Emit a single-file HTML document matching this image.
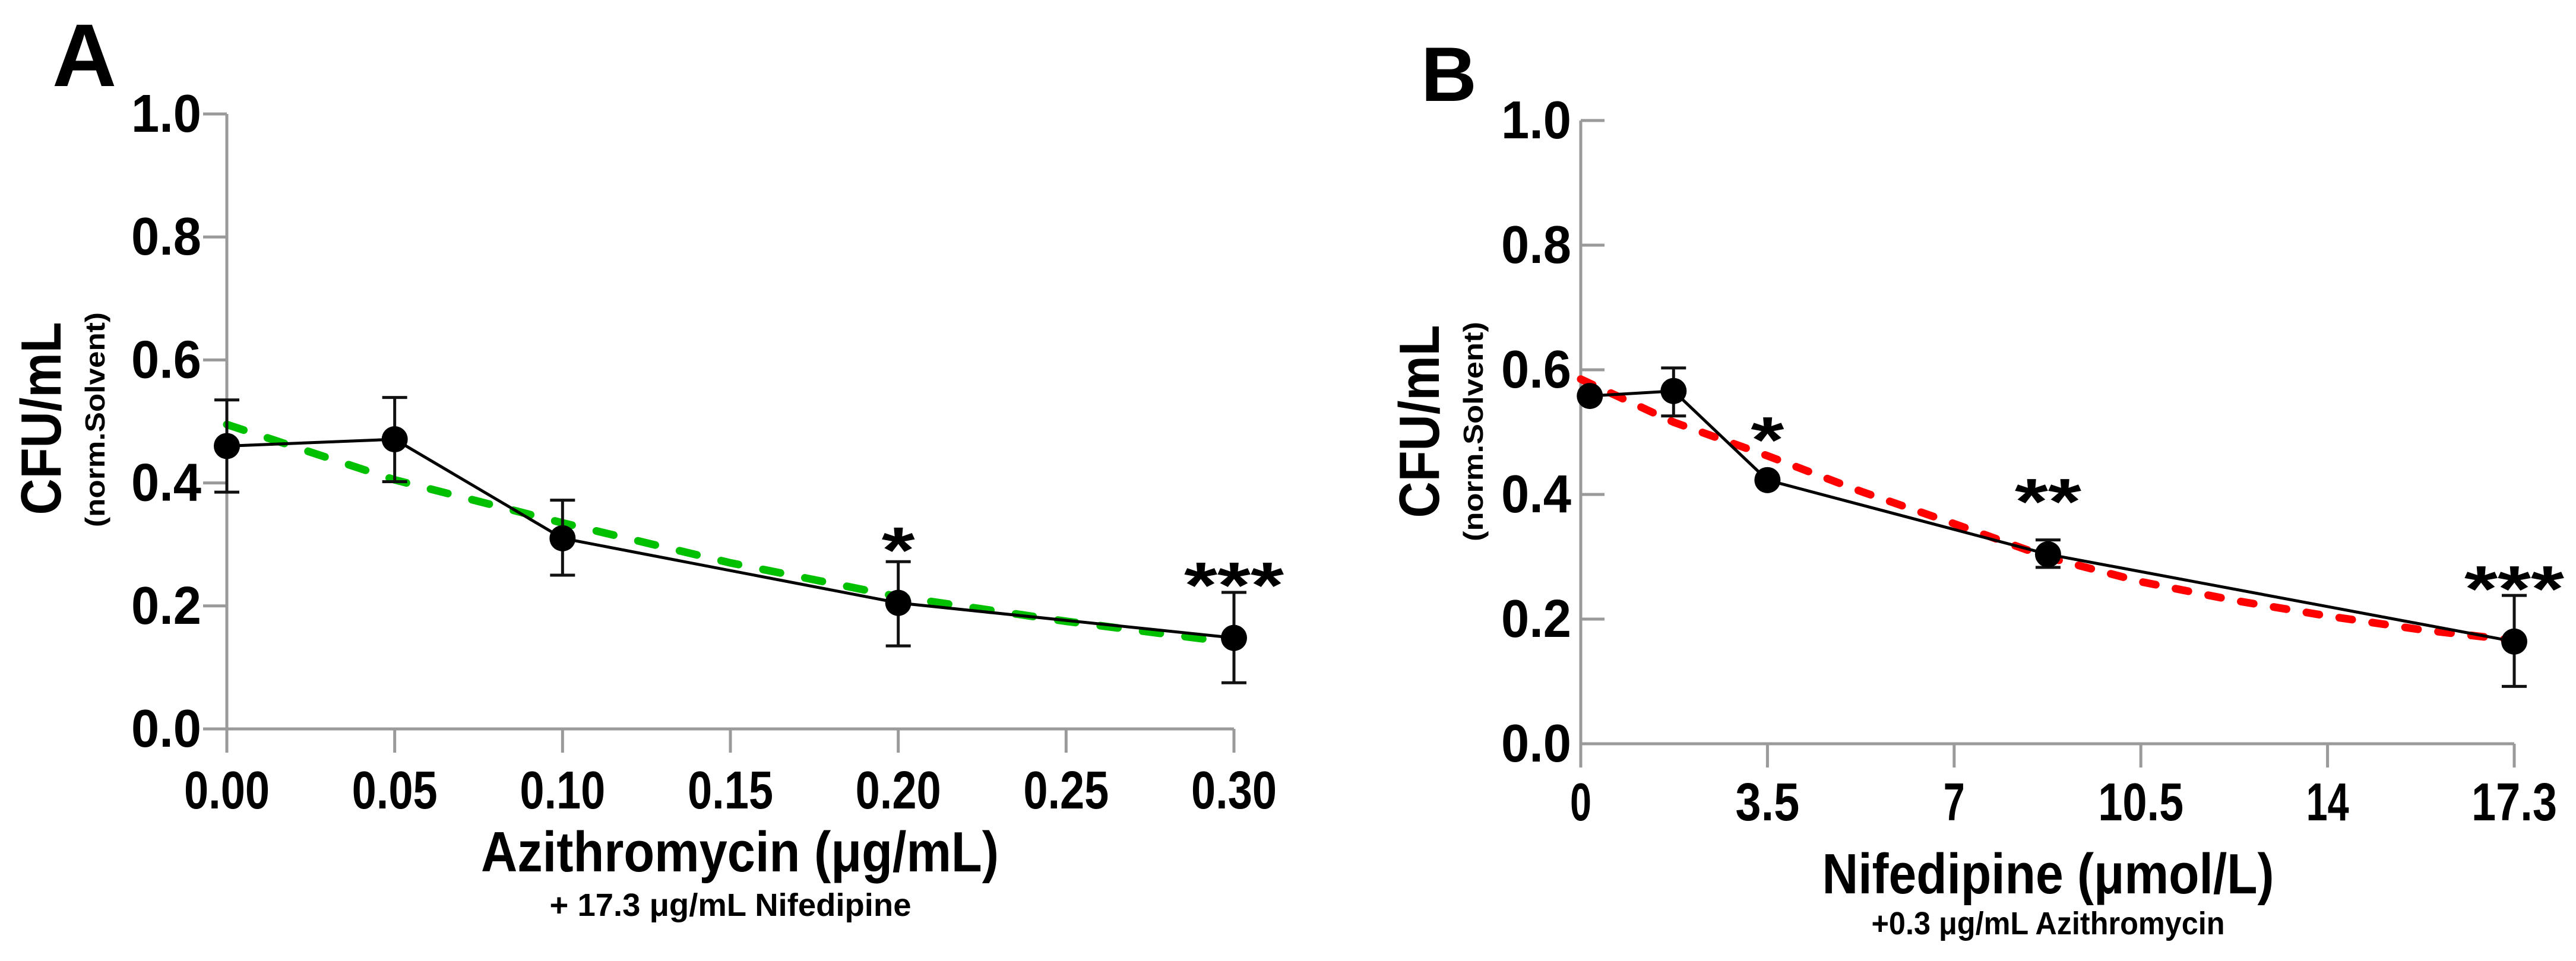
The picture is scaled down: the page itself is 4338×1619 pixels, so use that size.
<!DOCTYPE html>
<html><head><meta charset="utf-8"><style>
html,body{margin:0;padding:0;background:#fff;}
svg{display:block;}
text{font-family:"Liberation Sans",sans-serif;font-weight:bold;fill:#000;}
</style></head><body>
<svg id="chart" xmlns="http://www.w3.org/2000/svg" width="4338" height="1619" viewBox="0 0 4338 1619">
<g id="panelA"></g>
<g id="panelB"></g>
</svg>
<script>
// ---- Panel A data ----
const aXTicks = [0, 0.05, 0.10, 0.15, 0.20, 0.25, 0.30];
const aXTickLabels = ["0.00","0.05","0.10","0.15","0.20","0.25","0.30"];
const aX = [0, 0.05, 0.10, 0.20, 0.30];
const aMean = [0.46, 0.471, 0.31, 0.205, 0.148];
const aLow = [0.385, 0.402, 0.25, 0.135, 0.075];
const aHigh = [0.535, 0.539, 0.372, 0.272, 0.222];
const aFitX = [0, 0.05, 0.10, 0.15, 0.20, 0.25, 0.30];
const aFitY = [0.495, 0.405, 0.335, 0.27, 0.215, 0.175, 0.14];
const aStars = ["", "", "", "*", "***"];
// ---- Panel B data ----
const bXTicks = [0, 3.5, 7, 10.5, 14, 17.5];
const bXTickLabels = ["0","3.5","7","10.5","14","17.3"];
const bX = [0.17, 1.74, 3.5, 8.76, 17.5];
const bMean = [0.558, 0.566, 0.423, 0.304, 0.164];
const bLow = [0.558, 0.526, 0.423, 0.283, 0.092];
const bHigh = [0.558, 0.603, 0.423, 0.327, 0.238];
const bFitX = [0, 1.74, 3.5, 5.25, 7, 8.76, 10.5, 12.25, 14, 15.75, 17.5];
const bFitY = [0.585, 0.516, 0.462, 0.405, 0.353, 0.299, 0.26, 0.23, 0.205, 0.183, 0.166];
const bStars = ["", "", "*", "**", "***"];
const yTicks = [0, 0.2, 0.4, 0.6, 0.8, 1.0];
const yTickLabels = ["0.0","0.2","0.4","0.6","0.8","1.0"];

const NS = "http://www.w3.org/2000/svg";
function mk(parent, tag, attrs, txt){
  const e = document.createElementNS(NS, tag);
  for (const k in attrs) e.setAttribute(k, attrs[k]);
  if (txt !== undefined) e.textContent = txt;
  parent.appendChild(e); return e;
}

function panel(g, cfg){
  const sx = v => cfg.x0 + (v - cfg.xmin) / (cfg.xmax - cfg.xmin) * (cfg.x1 - cfg.x0);
  const sy = v => cfg.y0 - v * (cfg.y0 - cfg.y1);
  let e = mk(g, "line", {x1:cfg.x0, y1:sy(1), x2:cfg.x0, y2:cfg.y0, stroke:"#9a9a9a","stroke-width":5});
  
  
  e = mk(g, "line", {x1:cfg.x0, y1:cfg.y0, x2:cfg.x1, y2:cfg.y0, stroke:"#9a9a9a","stroke-width":5});
  
  
  yTicks.forEach((v,i)=>{
    const y = sy(v);
    const t = mk(g, "line", {x1:cfg.x0, y1:y, x2:cfg.x0 + cfg.ytickDir*40, y2:y, stroke:"#9a9a9a","stroke-width":5});
    
    
    const l = mk(g, "text", {x:cfg.ylabX, y:y+30, "text-anchor":"end","font-size":90, textLength:118, lengthAdjust:"spacingAndGlyphs"}, yTickLabels[i]);
    
    
  });
  cfg.xTicks.forEach((v,i)=>{
    const x = sx(v);
    const t = mk(g, "line", {x1:x, y1:cfg.y0, x2:x, y2:cfg.y0+40, stroke:"#9a9a9a","stroke-width":5});
    
    
    const s = cfg.xTickLabels[i];
    const l = mk(g, "text", {x:x, y:cfg.xlabY, "text-anchor":"middle","font-size":90, textLength:s.length*36, lengthAdjust:"spacingAndGlyphs"}, s);
    
    
  });
  const pts = cfg.fitX.map((v,i)=>sx(v)+","+sy(cfg.fitY[i])).join(" ");
  e = mk(g, "polyline", {points:pts, fill:"none", stroke:cfg.fitColor, "stroke-width":13, "stroke-dasharray":cfg.dash, "stroke-linecap":"round"});
  
  
  const dp = cfg.xs.map((v,i)=>sx(v)+","+sy(cfg.mean[i])).join(" ");
  e = mk(g, "polyline", {points:dp, fill:"none", stroke:"#000", "stroke-width":5});
  
  
  cfg.xs.forEach((v,i)=>{
    const x = sx(v);
    if (cfg.hi[i] - cfg.lo[i] > 0.001){
      const eb = mk(g, "path", {d:`M${x},${sy(cfg.hi[i])}V${sy(cfg.lo[i])}M${x-21},${sy(cfg.hi[i])}H${x+21}M${x-21},${sy(cfg.lo[i])}H${x+21}`, stroke:"#111", "stroke-width":5, fill:"none"});
      
      
    }
    const c = mk(g, "circle", {cx:x, cy:sy(cfg.mean[i]), r:22, fill:"#000"});
    
    
    const st = cfg.stars[i];
    if (st){
      const top = Math.max(sy(cfg.hi[i]), sy(cfg.mean[i]) - 21);
      const a = mk(g, "text", {x:x, y:top - 30, "text-anchor":"middle","font-size":110, textLength:st.length*56, lengthAdjust:"spacingAndGlyphs"}, st);
      
      
    }
  });
}

const gA = document.getElementById("panelA");
const gB = document.getElementById("panelB");
panel(gA, {x0:382, x1:2078, xmin:0, xmax:0.30, y0:1228, y1:192, ytickDir:-1, ylabX:339, xlabY:1362,
  xTicks:aXTicks, xTickLabels:aXTickLabels, xs:aX, mean:aMean, lo:aLow, hi:aHigh,
  fitX:aFitX, fitY:aFitY, fitColor:"#00c000", dash:"30 42", stars:aStars});
panel(gB, {x0:2662, x1:4234, xmin:0, xmax:17.5, y0:1253, y1:203, ytickDir:1, ylabX:2646, xlabY:1382,
  xTicks:bXTicks, xTickLabels:bXTickLabels, xs:bX, mean:bMean, lo:bLow, hi:bHigh,
  fitX:bFitX, fitY:bFitY, fitColor:"#ff0000", dash:"22 34", stars:bStars});
</script>
<svg style="position:absolute;left:0;top:0" width="4338" height="1619" viewBox="0 0 4338 1619">
<text x="88" y="145" font-size="150">A</text>
<text x="2393" y="170" font-size="130">B</text>
<text transform="translate(102,705) rotate(-90)" text-anchor="middle" font-size="96" textLength="325" lengthAdjust="spacingAndGlyphs">CFU/mL</text>
<text transform="translate(176,707) rotate(-90)" text-anchor="middle" font-size="46" textLength="362" lengthAdjust="spacingAndGlyphs">(norm.Solvent)</text>
<text transform="translate(2423,710) rotate(-90)" text-anchor="middle" font-size="96" textLength="325" lengthAdjust="spacingAndGlyphs">CFU/mL</text>
<text transform="translate(2497,727) rotate(-90)" text-anchor="middle" font-size="46" textLength="370" lengthAdjust="spacingAndGlyphs">(norm.Solvent)</text>
<text x="1246" y="1468" text-anchor="middle" font-size="96" textLength="872" lengthAdjust="spacingAndGlyphs">Azithromycin (μg/mL)</text>
<text x="1230" y="1543" text-anchor="middle" font-size="54" textLength="609" lengthAdjust="spacingAndGlyphs">+ 17.3 μg/mL Nifedipine</text>
<text x="3449" y="1505" text-anchor="middle" font-size="96" textLength="761" lengthAdjust="spacingAndGlyphs">Nifedipine (μmol/L)</text>
<text x="3449" y="1574" text-anchor="middle" font-size="54" textLength="595" lengthAdjust="spacingAndGlyphs">+0.3 μg/mL Azithromycin</text>
</svg>
</body></html>
